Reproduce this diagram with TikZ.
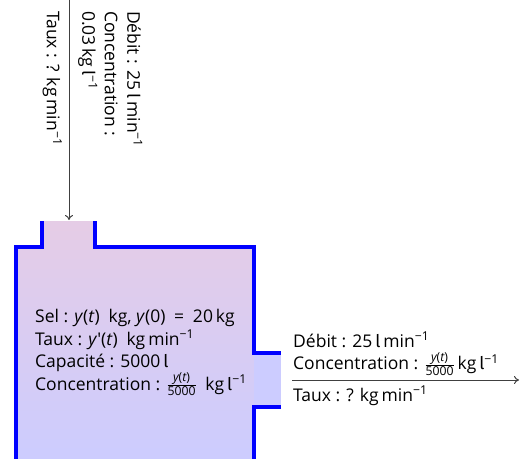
\documentclass[tikz,border=0pt]{standalone}
\usepackage{amsmath}
\usepackage{fontspec}
\setmainfont{Open Sans}
\newfontfamily\lfont{Fira Sans}
\usetikzlibrary{arrows.meta}
\newcommand\Li{{\lfont l}}
\newcommand\mi{\textsuperscript{−1}}
\newcommand\yfr{$\frac{\text{\itshape y}\text{(}\text{\itshape t}\text{)}}{\text{5000}}$}
\tikzset{
  wall/.style={draw=blue, line width=3.2pt, line join=miter},
  flow/.style={draw=black!75, line width=1pt, -{To[length=5pt,width=8pt]}},
  lbl/.style={inner sep=0pt, align=left},
}
\begin{document}
\begin{tikzpicture}[x=1pt,y=-1pt,font=\fontsize{17.5}{22.5}\selectfont]
\useasboundingbox (0,0) rectangle (527,458);
% fills
\shade[top color=violet!20, bottom color=blue!20]
  (42,221) -- (95,221) -- (95,247) -- (254,247) -- (254,462) -- (16,462) -- (16,247) -- (42,247) -- cycle;
\fill[blue!20] (254,353) rectangle (281,407);
% walls
\draw[wall] (42,221) -- (42,247) -- (16,247) -- (16,462);
\draw[wall] (95,221) -- (95,247) -- (254,247) -- (254,353) -- (281,353);
\draw[wall] (281,407) -- (254,407) -- (254,462);
% inlet
\coordinate (inA) at (69,0);
\coordinate (inB) at (69,220);
\draw[flow] (inA) -- (inB);
\node[lbl, rotate=-90, anchor=south west] (inUp) at (78,11)
  {Débit : 25\,\Li\,min\mi\\Concentration :\\0.03\,kg\,\Li\mi};
\node[lbl, rotate=-90, anchor=north west] (inDown) at (62,11)
  {Taux : ? kg\,min\mi};
% tank text
\node[lbl, anchor=north west] (tank) at (35,309)
  {Sel : \textit{y}(\textit{t})\enspace kg, \textit{y}(0)\enspace=\enspace20\,kg\\
   Taux : \textit{y}′(\textit{t})\enspace kg\,min\mi\\
   Capacité : 5000\,\Li\\
   Concentration : \yfr\enspace kg\,\Li\mi};
% outlet
\coordinate (outA) at (292,380);
\coordinate (outB) at (519,380);
\draw[flow] (outA) -- (outB);
\node[lbl, anchor=south west] (outUp) at (293,376)
  {Débit : 25\,\Li\,min\mi\\Concentration : \yfr\,kg\,\Li\mi};
\node[lbl, anchor=north west] (outDown) at (293,386)
  {Taux : ? kg\,min\mi};
\end{tikzpicture}
\end{document}
